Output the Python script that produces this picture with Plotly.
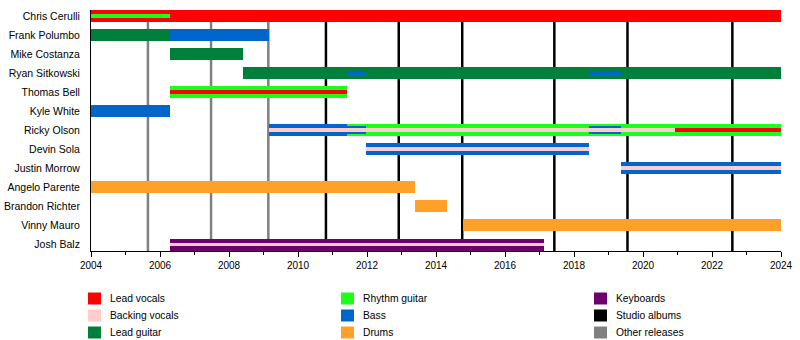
import plotly.graph_objects as go

# Band members, top to bottom
members = [
    "Chris Cerulli", "Frank Polumbo", "Mike Costanza", "Ryan Sitkowski",
    "Thomas Bell", "Kyle White", "Ricky Olson", "Devin Sola",
    "Justin Morrow", "Angelo Parente", "Brandon Richter", "Vinny Mauro",
    "Josh Balz",
]

# Main role periods: (member, start, end)
lead_vocals = [("Chris Cerulli", 2004.0, 2024.0)]
lead_guitar = [
    ("Frank Polumbo", 2004.0, 2006.3),
    ("Mike Costanza", 2006.3, 2008.4),
    ("Ryan Sitkowski", 2008.4, 2024.0),
]
rhythm_guitar = [
    ("Thomas Bell", 2006.3, 2011.42),
    ("Ricky Olson", 2011.42, 2024.0),
]
bass = [
    ("Frank Polumbo", 2006.3, 2009.15),
    ("Kyle White", 2004.0, 2006.3),
    ("Ricky Olson", 2009.15, 2011.42),
    ("Devin Sola", 2011.96, 2018.44),
    ("Justin Morrow", 2019.35, 2024.0),
]
drums = [
    ("Angelo Parente", 2004.0, 2013.38),
    ("Brandon Richter", 2013.38, 2014.32),
    ("Vinny Mauro", 2014.78, 2024.0),
]
keyboards = [("Josh Balz", 2006.3, 2017.13)]

# Secondary roles drawn over the main bars
bass_fill_in = [
    ("Ricky Olson", 2011.42, 2011.96),
    ("Ricky Olson", 2018.44, 2019.35),
]
rhythm_guitar_second = [("Chris Cerulli", 2004.0, 2006.3)]
lead_vocals_second = [
    ("Thomas Bell", 2006.3, 2011.42),
    ("Ricky Olson", 2020.93, 2024.0),
]
backing_vocals = [
    ("Ricky Olson", 2009.15, 2020.93),
    ("Devin Sola", 2011.96, 2018.44),
    ("Justin Morrow", 2019.35, 2024.0),
    ("Josh Balz", 2006.3, 2017.13),
]
bass_second = [
    ("Ryan Sitkowski", 2011.42, 2011.96),
    ("Ryan Sitkowski", 2018.44, 2019.35),
]

# Release dates
studio_albums = [2010.81, 2012.92, 2014.76, 2017.43, 2019.55, 2022.59]
other_releases = [2005.65, 2007.48, 2009.14]

# Legend entries
legend_labels = [
    ["Lead vocals", "Backing vocals", "Lead guitar"],
    ["Rhythm guitar", "Bass", "Drums"],
    ["Keyboards", "Studio albums", "Other releases"],
]

COLORS = {
    "Lead vocals": "#ff0000",
    "Backing vocals": "#ffcccc",
    "Lead guitar": "#007f3a",
    "Rhythm guitar": "#1bff1b",
    "Bass": "#0066cc",
    "Drums": "#ffa02a",
    "Keyboards": "#6e006e",
    "Studio albums": "#000000",
    "Other releases": "#808080",
}

FONT = "Liberation Sans, Arial, sans-serif"
row = {name: i for i, name in enumerate(members)}

fig = go.Figure()


def add_bars(periods, role, width):
    fig.add_trace(go.Bar(
        orientation="h",
        y=[row[m] for m, s, e in periods],
        base=[s for m, s, e in periods],
        x=[e - s for m, s, e in periods],
        width=width,
        marker=dict(color=COLORS[role], line=dict(width=0)),
        name=role,
        showlegend=False,
        hovertemplate="%{base:.2f} – %{x:.2f}<extra>" + role + "</extra>",
    ))


MAIN, MID, THIN = 0.63, 0.42, 0.2
add_bars(lead_vocals, "Lead vocals", MAIN)
add_bars(lead_guitar, "Lead guitar", MAIN)
add_bars(rhythm_guitar, "Rhythm guitar", MAIN)
add_bars(bass, "Bass", MAIN)
add_bars(drums, "Drums", MAIN)
add_bars(keyboards, "Keyboards", MAIN)
add_bars(bass_fill_in, "Bass", MID)
add_bars(rhythm_guitar_second, "Rhythm guitar", THIN)
add_bars(lead_vocals_second, "Lead vocals", THIN)
add_bars(backing_vocals, "Backing vocals", THIN)
add_bars(bass_second, "Bass", THIN)

shapes = []
for x in other_releases:
    shapes.append(dict(type="line", xref="x", yref="paper", x0=x, x1=x, y0=0, y1=1,
                       line=dict(color=COLORS["Other releases"], width=2.5), layer="below"))
for x in studio_albums:
    shapes.append(dict(type="line", xref="x", yref="paper", x0=x, x1=x, y0=0, y1=1,
                       line=dict(color=COLORS["Studio albums"], width=2.5), layer="below"))

# Legend drawn below the axis in three columns
L, R, T, B = 91, 781, 10, 251
pw, ph = R - L, B - T
col_swatch_px = [88, 341, 594]
row_center_px = [298.5, 315.5, 332.5]
annotations = []
for ci, col in enumerate(legend_labels):
    for ri, label in enumerate(col):
        x0 = (col_swatch_px[ci] - L) / pw
        x1 = (col_swatch_px[ci] + 13 - L) / pw
        yc = row_center_px[ri]
        shapes.append(dict(type="rect", xref="paper", yref="paper",
                           x0=x0, x1=x1, y0=(B - (yc - 6)) / ph, y1=(B - (yc + 6)) / ph,
                           fillcolor=COLORS[label], line=dict(width=0)))
        annotations.append(dict(xref="paper", yref="paper",
                                x=(col_swatch_px[ci] + 20 - L) / pw, y=(B - yc) / ph,
                                xanchor="left", yanchor="middle", showarrow=False,
                                text=label, font=dict(family=FONT, size=10.3, color="#000")))

fig.update_layout(
    width=800, height=340,
    margin=dict(l=L, r=800 - R, t=T, b=340 - B),
    barmode="overlay",
    bargap=0,
    plot_bgcolor="white",
    paper_bgcolor="white",
    font=dict(family=FONT, size=10.5, color="#000"),
    shapes=shapes,
    annotations=annotations,
    showlegend=False,
)
fig.update_xaxes(
    range=[2004, 2024],
    tickvals=list(range(2004, 2025, 2)),
    tickformat="d",
    ticks="outside", ticklen=5, tickcolor="#000", tickwidth=1,
    minor=dict(dtick=1, ticks="outside", ticklen=3, tickcolor="#000", tickwidth=1),
    showline=True, linecolor="#000", linewidth=1,
    showgrid=False, zeroline=False,
    automargin=False,
    tickfont=dict(family=FONT, size=10),
)
fig.update_yaxes(
    range=[12.34, -0.315],
    tickvals=list(range(len(members))),
    ticktext=members,
    ticks="",
    ticklabelstandoff=8,
    showline=True, linecolor="#000", linewidth=1,
    showgrid=False, zeroline=False,
    automargin=False,
    tickfont=dict(family=FONT, size=10.5),
)

fig.write_html("out.html")
